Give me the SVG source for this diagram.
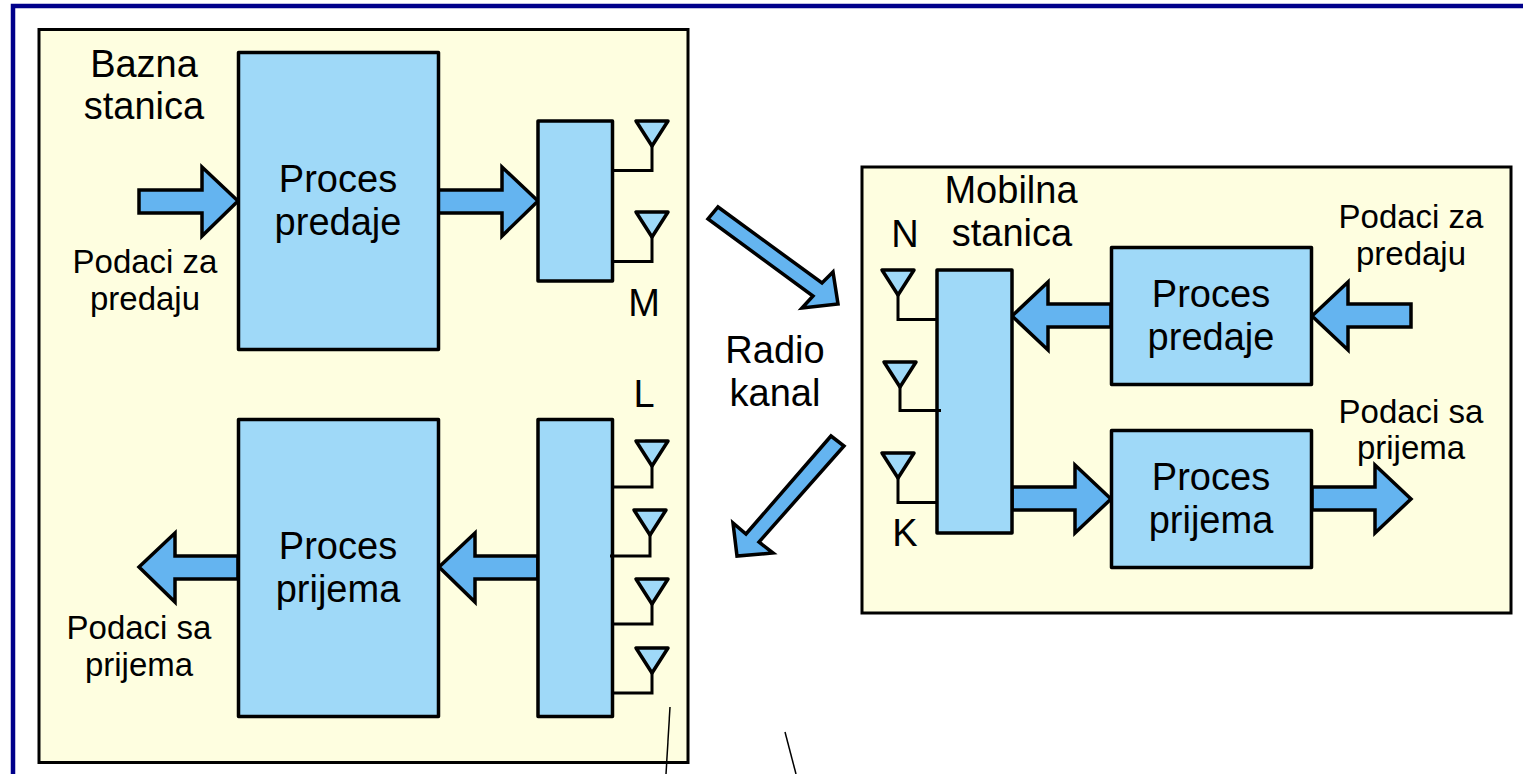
<svg xmlns="http://www.w3.org/2000/svg" width="1523" height="774" viewBox="0 0 1523 774">
<style>
text{font-family:"Liberation Sans",Arial,sans-serif;fill:#000;text-anchor:middle}
.l{font-size:38px}
.s{font-size:33px}
.panel{fill:#fefee0;stroke:#000;stroke-width:3}
.box{fill:#9fd9f8;stroke:#000;stroke-width:3.500;stroke-linejoin:round}
.arr{fill:#64b4f0;stroke:#000;stroke-width:3.500;stroke-linejoin:miter}
.wire{fill:none;stroke:#000;stroke-width:3}
.thin{fill:none;stroke:#000;stroke-width:1.500}
</style>
<defs>
<path id="tri" class="box" d="M-16,0H16L0,25Z"/>
</defs>
<rect width="1523" height="774" fill="#fff"/>
<path id="frame" d="M13,774V6H1523" fill="none" stroke="#00008b" stroke-width="4.500"/>

<g id="bazna-panel"><rect class="panel" x="39" y="29.500" width="649" height="733"/></g>
<g id="mobilna-panel"><rect class="panel" x="862" y="167" width="649" height="446"/></g>

<g id="connectors">
<path class="arr" d="M139,190H202V167L238,201L202,236V213H139Z"/>
<path class="arr" d="M438,190H502V167L538,201L502,236V213H438Z"/>
<path class="arr" d="M238,579H175V602L139,567L175,533V556H238Z"/>
<path class="arr" d="M538,579H475V602L439,567L475,533V556H538Z"/>
<path class="arr" d="M1111,327H1048V350L1012,316L1048,282V304H1111Z"/>
<path class="arr" d="M1411,327H1348V350L1312,316L1348,282V304H1411Z"/>
<path class="arr" d="M1012,487H1075V465L1111,499L1075,533V510H1012Z"/>
<path class="arr" d="M1312,487H1375V465L1411,499L1375,533V510H1312Z"/>
<path class="arr" d="M718,207L822,283L833,272L838,304L802,308L813,296L708,219Z"/>
<path class="arr" d="M831,436L746,534L733,523L737,556L773,553L759,542L844,446Z"/>
<path class="thin" d="M670,707L666,774"/>
<path class="thin" d="M785,732L796,774"/>
</g>

<g id="proces-predaje-b"><rect class="box" x="238.500" y="52.500" width="200" height="297"/><text class="l" x="338" y="192">Proces</text><text class="l" x="338" y="235">predaje</text></g>
<g id="proces-prijema-b"><rect class="box" x="238.500" y="419.500" width="200" height="297"/><text class="l" x="338" y="559">Proces</text><text class="l" x="338" y="602">prijema</text></g>
<g id="blok-m"><rect class="box" x="538" y="121" width="74.500" height="160"/></g>
<g id="blok-l"><rect class="box" x="538" y="419.500" width="74.500" height="297"/></g>
<g id="ant-b1"><use href="#tri" x="652" y="121"/><path class="wire" d="M652,146V170.500H612"/></g>
<g id="ant-b2"><use href="#tri" x="652" y="212"/><path class="wire" d="M652,237V261.500H612"/></g>
<g id="ant-b3"><use href="#tri" x="652" y="441"/><path class="wire" d="M652,466V487H612"/></g>
<g id="ant-b4"><use href="#tri" x="650" y="510"/><path class="wire" d="M650,535V556H610"/></g>
<g id="ant-b5"><use href="#tri" x="652" y="579"/><path class="wire" d="M652,604V624H612"/></g>
<g id="ant-b6"><use href="#tri" x="652" y="648"/><path class="wire" d="M652,673V693H612"/></g>

<g id="proces-predaje-m"><rect class="box" x="1111.500" y="247.500" width="200" height="137"/><text class="l" x="1211" y="307">Proces</text><text class="l" x="1211" y="350">predaje</text></g>
<g id="proces-prijema-m"><rect class="box" x="1111.500" y="430.500" width="200" height="137"/><text class="l" x="1211" y="490">Proces</text><text class="l" x="1211" y="533">prijema</text></g>
<g id="blok-mob"><rect class="box" x="937" y="270" width="75" height="263"/></g>
<g id="ant-m1"><use href="#tri" x="898" y="270"/><path class="wire" d="M898,295V319.500H937"/></g>
<g id="ant-m2"><use href="#tri" x="900" y="362"/><path class="wire" d="M900,387V410.500H941"/></g>
<g id="ant-m3"><use href="#tri" x="898" y="453"/><path class="wire" d="M898,478V502.500H937"/></g>

<g id="labels">
<text class="l" x="144" y="77">Bazna</text>
<text class="l" x="144" y="119">stanica</text>
<text class="s" x="145" y="273">Podaci za</text>
<text class="s" x="145" y="310">predaju</text>
<text class="s" x="139" y="639">Podaci sa</text>
<text class="s" x="139" y="676">prijema</text>
<text class="l" x="644" y="316">M</text>
<text class="l" x="644" y="407">L</text>
<text class="l" x="775" y="363">Radio</text>
<text class="l" x="775" y="406">kanal</text>
<text class="l" x="1011" y="203">Mobilna</text>
<text class="l" x="1012" y="246">stanica</text>
<text class="l" x="905" y="247">N</text>
<text class="l" x="905" y="546">K</text>
<text class="s" x="1411" y="228">Podaci za</text>
<text class="s" x="1411" y="265">predaju</text>
<text class="s" x="1411" y="423">Podaci sa</text>
<text class="s" x="1411" y="459">prijema</text>
</g>
</svg>
